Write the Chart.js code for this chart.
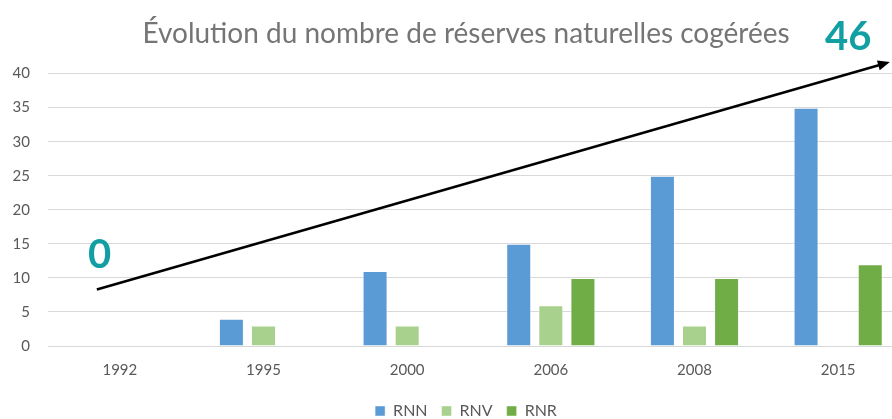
<!DOCTYPE html>
<html>
<head>
<meta charset="utf-8">
<script src="https://cdn.jsdelivr.net/npm/chart.js@4.4.0/dist/chart.umd.min.js"></script>
<style>
  html, body { margin: 0; padding: 0; overflow: hidden; background: #fff; }
  #wrap { width: 930px; height: 419px; }
</style>
</head>
<body>
<div id="wrap"><canvas id="chart" width="930" height="419"></canvas></div>
<script>
const years = ['1992', '1995', '2000', '2006', '2008', '2015'];
const rnn = [0, 4, 11, 15, 25, 35];
const rnv = [0, 3, 3, 6, 3, 0];
const rnr = [0, 0, 0, 10, 10, 12];
const seriesNames = ['RNN', 'RNV', 'RNR'];
const colors = ['#5B9BD5', '#A9D18E', '#70AD47'];

// arrow "0 -> 46", in category index / value units
const arrowFrom = { x: -0.16, y: 8.3 };
const arrowTo = { x: 5.36, y: 41.7 };
const startLabel = { text: '0', x: -0.14, y: 13.4 };
const endLabel = { text: '46', x: 5.07, y: 45.3 };

const font = 'Lato, "Open Sans", sans-serif';

const posX = (chart, v) => {
    const s = chart.scales.x;
    const a = s.getPixelForValue(0), b = s.getPixelForValue(1);
    return a + (b - a) * v;
};

const arrowPlugin = {
    id: 'arrow',
    afterDraw(chart) {
        const ctx = chart.ctx;
        const y = chart.scales.y;
        const x1 = posX(chart, arrowFrom.x), y1 = y.getPixelForValue(arrowFrom.y);
        const x2 = posX(chart, arrowTo.x), y2 = y.getPixelForValue(arrowTo.y);
        const ang = Math.atan2(y2 - y1, x2 - x1);
        ctx.save();
        ctx.strokeStyle = '#000';
        ctx.fillStyle = '#000';
        ctx.lineWidth = 2.5;
        ctx.beginPath();
        ctx.moveTo(x1, y1);
        ctx.lineTo(x2 - 8 * Math.cos(ang), y2 - 8 * Math.sin(ang));
        ctx.stroke();
        ctx.beginPath();
        ctx.moveTo(x2, y2);
        ctx.lineTo(x2 - 12 * Math.cos(ang) + 5 * Math.sin(ang), y2 - 12 * Math.sin(ang) - 5 * Math.cos(ang));
        ctx.lineTo(x2 - 12 * Math.cos(ang) - 5 * Math.sin(ang), y2 - 12 * Math.sin(ang) + 5 * Math.cos(ang));
        ctx.closePath();
        ctx.fill();

        ctx.fillStyle = '#119FA4';
        ctx.font = 'bold 40px ' + font;
        ctx.textAlign = 'center';
        ctx.textBaseline = 'middle';
        [startLabel, endLabel].forEach(l => {
            ctx.fillText(l.text, posX(chart, l.x), y.getPixelForValue(l.y));
        });
        ctx.restore();
    }
};

const datasets = [rnn, rnv, rnr].map((d, i) => ({
    label: seriesNames[i],
    data: d,
    backgroundColor: colors[i],
    borderColor: 'rgba(255,255,255,0.45)',
    borderWidth: 1,
    categoryPercentage: 0.67,
    barPercentage: 0.78,
}));

new Chart(document.getElementById('chart'), {
    type: 'bar',
    data: { labels: years, datasets },
    plugins: [arrowPlugin],
    options: {
        responsive: false,
        animation: false,
        layout: { padding: { left: 22, right: 20, top: 0, bottom: -10 } },
        plugins: {
            title: {
                display: true,
                text: 'Évolution du nombre de réserves naturelles cogérées',
                color: '#757575',
                font: { family: font, size: 28, weight: 'normal' },
                padding: { top: 17, bottom: 23 },
            },
            legend: {
                position: 'bottom',
                labels: {
                    boxWidth: 10,
                    boxHeight: 10,
                    color: '#595959',
                    font: { family: font, size: 16 },
                    padding: 14,
                },
            },
            tooltip: { enabled: false },
        },
        scales: {
            x: {
                grid: { display: false },
                border: { color: '#D9D9D9' },
                ticks: { color: '#595959', font: { family: font, size: 15 }, padding: 7 },
                afterFit(scale) { scale.height += 3; },
            },
            y: {
                min: 0,
                max: 40,
                ticks: { stepSize: 5, color: '#595959', font: { family: font, size: 15 }, padding: 18 },
                grid: { color: '#D9D9D9', drawTicks: false },
                border: { display: false },
                afterFit(scale) {
                    scale.width = 26;
                    // let the tick labels run into the left padding
                    scale._computeLabelArea = () => undefined;
                },
            },
        },
    },
});
</script>
</body>
</html>
